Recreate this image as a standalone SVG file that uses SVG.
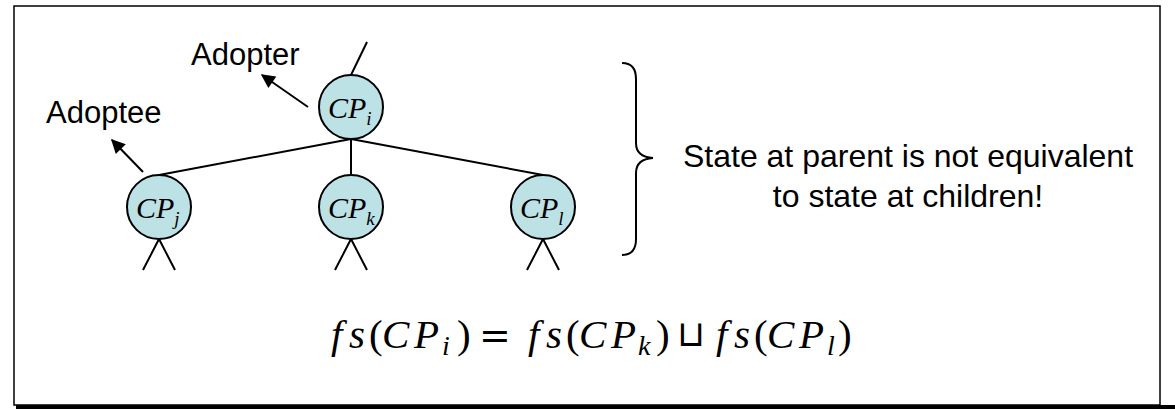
<svg xmlns="http://www.w3.org/2000/svg" width="1175" height="410" viewBox="0 0 1175 410">
<style>
.frame{fill:none;stroke:#000;stroke-width:1.5}
.shadow{stroke:#000;stroke-width:4}
.node{fill:#bce2e5;stroke:#000;stroke-width:2}
.edge{stroke:#000;stroke-width:2;fill:none}
.arrow{stroke:#000;stroke-width:2;fill:none;marker-end:url(#ah)}
.lbl{font-family:"Liberation Serif","Times New Roman",serif;font-style:italic;font-size:30px}
.sub{font-size:19px}
.txt{font-family:"Liberation Sans",Arial,sans-serif;font-size:31px;fill:#000}
.note{font-size:32px}
.math{font-family:"Liberation Serif","Times New Roman",serif;font-size:41px}
.mi{font-style:italic}
.ms{font-style:italic;font-size:28px}
.op{font-family:"DejaVu Sans",sans-serif;font-weight:normal}
</style>
<defs>
<marker id="ah" viewBox="0 0 10 10" refX="9" refY="5" markerWidth="8" markerHeight="7" orient="auto" markerUnits="strokeWidth">
<path d="M0,0 L10,5 L0,10 z" fill="#000"/>
</marker>
</defs>
<rect class="frame" x="14" y="6" width="1146" height="399"/>
<line class="shadow" x1="16" y1="407" x2="1175" y2="407"/>

<g id="connectors">
<line class="edge" x1="351" y1="75" x2="367" y2="42"/>
<line class="edge" x1="351" y1="139" x2="159" y2="175"/>
<line class="edge" x1="351" y1="139" x2="351" y2="175"/>
<line class="edge" x1="351" y1="139" x2="543" y2="175"/>
<path class="edge" d="M143,270 L159,239 L175,270"/>
<path class="edge" d="M335,270 L351,239 L367,270"/>
<path class="edge" d="M527,270 L543,239 L559,270"/>
<line class="arrow" x1="308" y1="107" x2="262" y2="75"/>
<line class="arrow" x1="143" y1="172" x2="112" y2="140"/>
</g>

<g id="CPi">
<circle class="node" cx="351" cy="107" r="32"/>
<text class="lbl" x="328" y="118">CP<tspan class="sub" dy="7">i</tspan></text>
</g>
<g id="CPj">
<circle class="node" cx="159" cy="207" r="32"/>
<text class="lbl" x="136" y="218">CP<tspan class="sub" dy="7">j</tspan></text>
</g>
<g id="CPk">
<circle class="node" cx="351" cy="207" r="32"/>
<text class="lbl" x="328" y="218">CP<tspan class="sub" dy="7">k</tspan></text>
</g>
<g id="CPl">
<circle class="node" cx="543" cy="207" r="32"/>
<text class="lbl" x="520" y="218">CP<tspan class="sub" dy="7">l</tspan></text>
</g>

<g id="adopter"><text class="txt" x="191" y="65">Adopter</text></g>
<g id="adoptee"><text class="txt" x="46" y="123">Adoptee</text></g>

<g id="brace">
<path class="edge" d="M622,63 Q636,63 636,79 L636,143 Q636,157 653,158 Q636,159 636,173 L636,239 Q636,255 622,255"/>
</g>
<g id="note">
<text class="txt note" x="908" y="167" text-anchor="middle">State at parent is not equivalent</text>
<text class="txt note" x="908" y="207" text-anchor="middle">to state at children!</text>
</g>

<g id="formula" class="math">
<text y="348"><tspan class="mi" x="331">f</tspan><tspan class="mi" x="349">s</tspan><tspan x="369">(</tspan><tspan class="mi" x="382">C</tspan><tspan class="mi" x="414">P</tspan><tspan class="ms" x="442" y="355">i</tspan><tspan x="457" y="348">)</tspan><tspan class="op" x="479" font-size="38">=</tspan><tspan class="mi" x="528">f</tspan><tspan class="mi" x="546">s</tspan><tspan x="566">(</tspan><tspan class="mi" x="579">C</tspan><tspan class="mi" x="611">P</tspan><tspan class="ms" x="638" y="355">k</tspan><tspan x="656" y="348">)</tspan><tspan class="op" x="677" font-size="36" y="346">⊔</tspan><tspan class="mi" x="716" y="348">f</tspan><tspan class="mi" x="734">s</tspan><tspan x="754">(</tspan><tspan class="mi" x="767">C</tspan><tspan class="mi" x="799">P</tspan><tspan class="ms" x="827" y="355">l</tspan><tspan x="838" y="348">)</tspan></text>
</g>
</svg>
